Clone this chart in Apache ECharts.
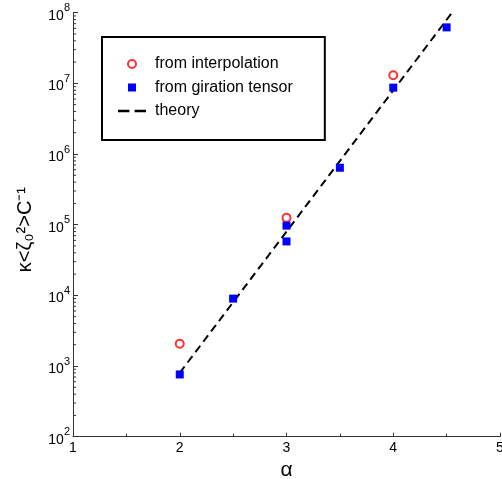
<!DOCTYPE html>
<html><head><meta charset="utf-8">
<script src="https://cdn.jsdelivr.net/npm/echarts@6/dist/echarts.min.js"></script>
<style>html,body{margin:0;padding:0;background:#fff}#c{width:502px;height:479px}</style>
</head><body><div id="c"></div>
<script>
// data
const interpAlpha = [2, 3, 4];
const interpValue = [2070, 125000, 13000000];
const girationAlpha = [2, 2.5, 3, 3, 3.5, 4, 4.5];
const girationValue = [760, 9000, 97000, 58000, 640000, 8700000, 62000000];
const theoryAlpha = [2, 4.55];
const theoryValue = [800, 100000000];
const xTicks = [1, 2, 3, 4, 5];
const yDecades = [2, 3, 4, 5, 6, 7, 8];
const minorMultipliers = [2, 3, 4, 5, 6, 7, 8, 9];

const FONT = '"Liberation Sans", Arial, sans-serif';
const minorTickValues = [];
yDecades.slice(0, -1).forEach(d => minorMultipliers.forEach(m => minorTickValues.push([1, m * Math.pow(10, d)])));

const chart = echarts.init(document.getElementById('c'), null, {renderer: 'canvas'});
chart.setOption({
  animation: false,
  backgroundColor: '#fff',
  textStyle: {fontFamily: FONT},
  grid: {left: 73, right: 2, top: 12.7, bottom: 42.3, containLabel: false, outerBoundsMode: 'none'},
  xAxis: {
    type: 'value', min: xTicks[0], max: xTicks[xTicks.length - 1], interval: 1,
    name: 'α', nameLocation: 'middle', nameGap: 22,
    nameTextStyle: {fontSize: 21, color: '#000', fontFamily: FONT},
    axisLine: {lineStyle: {color: '#333', width: 1}},
    axisTick: {inside: true, length: 4, lineStyle: {color: '#333'}},
    minorTick: {show: true, splitNumber: 2, length: 3, lineStyle: {color: '#333'}},
    splitLine: {show: false},
    axisLabel: {fontSize: 14, color: '#000', margin: 4, fontFamily: FONT}
  },
  yAxis: {
    type: 'log', logBase: 10, min: Math.pow(10, yDecades[0]), max: Math.pow(10, yDecades[yDecades.length - 1]), interval: 1,
    axisLine: {show: true, lineStyle: {color: '#333', width: 1}},
    axisTick: {show: true, inside: true, length: 5, lineStyle: {color: '#333'}},
    splitLine: {show: false},
    axisLabel: {
      margin: 3, color: '#000',
      formatter: v => '{b|10}{s|' + Math.round(Math.log10(v)) + '}',
      rich: {
        b: {fontSize: 14, fontFamily: FONT, color: '#000', lineHeight: 20, verticalAlign: 'bottom'},
        s: {fontSize: 11, fontFamily: FONT, color: '#000', lineHeight: 13, verticalAlign: 'top'}
      }
    }
  },
  legend: {
    orient: 'vertical', left: 102, top: 37,
    padding: [19, 32, 21, 16],
    borderColor: '#000', borderWidth: 2, backgroundColor: '#fff',
    itemWidth: 28, itemHeight: 8, itemGap: 7.5,
    textStyle: {fontSize: 16, color: '#000', fontFamily: FONT, padding: [0, 0, 0, 4], lineHeight: 16},
    data: [
      {name: 'from interpolation', icon: 'emptyCircle'},
      {name: 'from giration tensor', icon: 'path://M0,0h1v1h-1z'},
      {name: 'theory', icon: 'path://M0,0h11v2.5h-11z M16,0h11v2.5h-11z'}
    ]
  },
  graphic: [{
    type: 'text', left: 15, top: 187, rotation: Math.PI / 2, z: 10,
    style: {text: 'κ<ζ₀²>C⁻¹', font: '20px ' + FONT, fill: '#000'}
  }],
  series: [
    {
      name: 'theory', type: 'line', symbol: 'none',
      data: theoryAlpha.map((a, i) => [a, theoryValue[i]]),
      lineStyle: {color: '#000', width: 2, type: [8, 5]}, itemStyle: {color: '#000'}, z: 2
    },
    {
      name: 'from interpolation', type: 'scatter', symbol: 'emptyCircle', symbolSize: 8,
      data: interpAlpha.map((a, i) => [a, interpValue[i]]),
      itemStyle: {color: '#ff3333', borderColor: '#ff3333', borderWidth: 1, opacity: 1}, z: 3
    },
    {
      name: 'from giration tensor', type: 'scatter', symbol: 'rect', symbolSize: 8,
      data: girationAlpha.map((a, i) => [a, girationValue[i]]),
      itemStyle: {color: '#0000ff', opacity: 1}, z: 4
    },
    {
      type: 'custom', silent: true, data: minorTickValues,
      renderItem: (params, api) => {
        const p = api.coord([api.value(0), api.value(1)]);
        return {type: 'line', shape: {x1: p[0], y1: p[1], x2: p[0] + 3, y2: p[1]}, style: {stroke: '#333', lineWidth: 1}};
      }, z: 1
    }
  ]
});
</script></body></html>
